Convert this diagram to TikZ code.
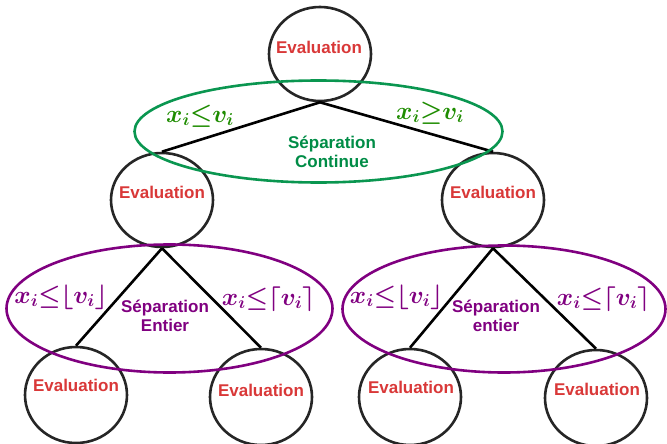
\documentclass[tikz,border=0pt]{standalone}
\usepackage{fontspec}
\setmainfont{Liberation Sans}
\usetikzlibrary{shapes.geometric}
\definecolor{evalred}{HTML}{D93838}
\definecolor{contgreen}{HTML}{0A9650}
\definecolor{labgreen}{HTML}{1E8C00}
\definecolor{sepgreen}{HTML}{008C46}
\definecolor{purp}{HTML}{800080}
\tikzset{
  evalcirc/.style={ellipse, draw=black!85, line width=2.6pt, minimum width=102pt, minimum height=94pt, inner sep=0pt},
  evaltext/.style={text=evalred, font=\fontsize{17}{19}\selectfont\bfseries, inner sep=0pt},
  edge/.style={line width=2.6pt, black},
  greenell/.style={draw=contgreen, line width=2.6pt},
  purpell/.style={draw=purp, line width=2.6pt},
  mathlab/.style={anchor=base, inner sep=0pt, font=\fontsize{26}{30}\selectfont\boldmath},
  septext/.style={align=center, inner sep=0pt, font=\fontsize{17}{19}\selectfont\bfseries}
}
\begin{document}
\begin{tikzpicture}[x=1pt,y=-1pt]
\useasboundingbox (0,0) rectangle (667,444);
% circles
\node[evalcirc] (n0) at (320,54) {};
\node[evalcirc] (n1) at (162,200) {};
\node[evalcirc] (n2) at (493,200) {};
\node[evalcirc, minimum height=96pt] (n3) at (76,395) {};
\node[evalcirc, minimum height=96pt] (n4) at (261,397) {};
\node[evalcirc, minimum height=96pt] (n5) at (410,397) {};
\node[evalcirc, minimum height=96pt] (n6) at (596,398) {};
% texts
\node[evaltext] (t0) at (319,47) {Evaluation};
\node[evaltext] (t1) at (162,192) {Evaluation};
\node[evaltext] (t2) at (493,192) {Evaluation};
\node[evaltext] (t3) at (76,385) {Evaluation};
\node[evaltext] (t4) at (261,390) {Evaluation};
\node[evaltext] (t5) at (411,387) {Evaluation};
\node[evaltext] (t6) at (597,389) {Evaluation};
% edges
\draw[edge] (n0.south) -- (n1.north);
\draw[edge] (n0.south) -- (n2.north);
\draw[edge] (n1.south) -- (n3.north);
\draw[edge] (n1.south) -- (n4.north);
\draw[edge] (n2.south) -- (n5.north);
\draw[edge] (n2.south) -- (n6.north);
% ellipses
\draw[greenell] (318.5,131.5) ellipse [x radius=184, y radius=51];
\draw[purpell] (169.5,308.5) ellipse [x radius=163, y radius=64];
\draw[purpell] (504,309) ellipse [x radius=161.5, y radius=63.5];
% labels
\node[mathlab, text=labgreen] (g1) at (200,122) {$x_i{\leq}v_i$};
\node[mathlab, text=labgreen] (g2) at (430,119) {$x_i{\geq}v_i$};
\node[septext, text=sepgreen] (s0) at (332,152) {Séparation\\Continue};
\node[mathlab, text=purp] (p1) at (61,303) {$x_i{\leq}\lfloor v_i\rfloor$};
\node[mathlab, text=purp] (p2) at (268.5,305) {$x_i{\leq}\lceil v_i\rceil$};
\node[septext, text=purp] (s1) at (165,316) {Séparation\\Entier};
\node[mathlab, text=purp] (p3) at (396.5,303) {$x_i{\leq}\lfloor v_i\rfloor$};
\node[mathlab, text=purp] (p4) at (603.5,305) {$x_i{\leq}\lceil v_i\rceil$};
\node[septext, text=purp] (s2) at (496,316) {Séparation\\entier};
\end{tikzpicture}
\end{document}
